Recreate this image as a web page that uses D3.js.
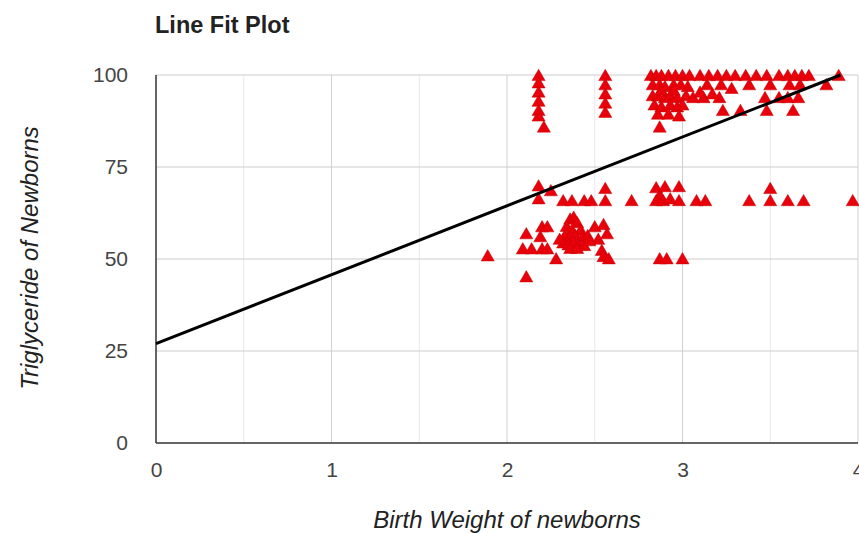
<!DOCTYPE html>
<html>
<head>
<script src="https://cdn.jsdelivr.net/npm/d3@7"></script>
<title>Line Fit Plot</title>
<style>
  body { margin:0; background:#fff; }
  text { font-family: "Liberation Sans", Arial, sans-serif; }
</style>
</head>
<body>
<div id="chart"></div>
<script>
// birth weight (x) vs triglyceride (y)
var upperPoints = [
  [2.18,99.5],[2.18,97.5],[2.18,95],[2.18,92.5],[2.18,90],[2.18,88.5],[2.21,85.5],
  [2.56,99.5],[2.56,97],[2.56,94.5],[2.56,92],[2.56,89.5],
  [2.82,99.5],[2.85,99.5],[2.88,99.5],[2.92,99.5],[2.96,99.5],[3.0,99.5],[3.04,99.5],
  [2.83,97],[2.87,97],[2.9,96.5],[2.95,97],[2.99,97],[3.03,96.5],
  [2.83,94],[2.86,94],[2.9,93.5],[2.93,94],[2.97,93.5],[3.02,94],[3.06,93.5],
  [2.84,91.5],[2.88,91],[2.93,91.5],[2.97,91],[3.0,91.5],[2.95,95.5],[2.88,95.5],
  [2.86,89],[2.92,89],[2.98,88.5],[2.87,85.5],
  [3.1,99.5],[3.15,99.5],[3.2,99.5],[3.25,99.5],[3.3,99.5],[3.36,99.5],[3.42,99.5],
  [3.48,99.5],[3.55,99.5],[3.6,99.5],[3.64,99.5],[3.68,99.5],[3.72,99.5],[3.89,99.5],
  [3.14,97],[3.22,97],[3.38,97],[3.5,97],[3.61,97],[3.67,97],[3.82,97],[3.28,96],
  [3.12,93.5],[3.21,93.5],[3.47,93.5],[3.55,93.5],[3.6,93.5],[3.66,93.5],
  [3.23,90],[3.33,90],[3.48,90],[3.63,90],[3.1,95],[3.17,94.5]
];
var lowerPoints = [
  [2.18,69.5],[2.25,68.2],[2.18,66],
  [2.32,65.5],[2.37,65.5],[2.44,65.5],[2.48,65.5],[2.56,65.5],[2.71,65.5],[2.56,68.8],
  [2.85,69],[2.87,67],[2.9,69.3],[2.85,65.5],[2.89,65.5],[2.93,66],[2.98,69.3],[2.98,65.5],
  [3.08,65.5],[3.13,65.5],[3.38,65.5],[3.5,68.8],[3.5,65.5],[3.6,65.5],[3.69,65.5],[3.97,65.5],
  [2.11,56.5],[2.2,58.4],[2.23,58.4],[2.19,55.7],[2.09,52.4],[2.14,52.4],[2.2,52.4],[2.23,52.4],
  [2.36,60.5],[2.38,61],[2.4,59.5],[2.34,58.5],[2.37,57.5],[2.42,57.5],[2.33,56],[2.36,55.5],
  [2.39,56],[2.43,55.5],[2.46,56],[2.32,54],[2.35,53.5],[2.38,54],[2.41,53.5],[2.44,53.3],
  [2.47,54.6],[2.36,52.5],[2.4,52.5],[2.3,55],
  [2.5,58.4],[2.55,59],[2.57,56.5],[2.54,52],[2.55,50.3],[2.58,49.7],[2.52,55],
  [2.28,49.7],[1.89,50.5],[2.11,44.8],[2.87,49.7],[2.91,49.7],[3.0,49.7]
];
var fitX = [0, 3.9];
var fitY = [27, 100];
var xTicks = [0, 1, 2, 3, 4];
var xMinor = [0.5, 1.5, 2.5, 3.5];
var yTicks = [0, 25, 50, 75, 100];

(function(){
  var w = 859, h = 533;
  var left = 156, right = 858, top = 75, bottom = 443;

  var svg = d3.select("#chart").append("svg")
      .attr("width", w).attr("height", h);

  var x = d3.scaleLinear().domain([0, 4]).range([left, right]);
  var y = d3.scaleLinear().domain([0, 100]).range([bottom, top]);

  // grid
  svg.selectAll("line.minor").data(xMinor).enter().append("line")
     .attr("x1", function(d){ return x(d); }).attr("x2", function(d){ return x(d); })
     .attr("y1", top).attr("y2", bottom)
     .attr("stroke", "#e8e8e8");
  svg.selectAll("line.vgrid").data(xTicks.slice(1)).enter().append("line")
     .attr("x1", function(d){ return x(d); }).attr("x2", function(d){ return x(d); })
     .attr("y1", top).attr("y2", bottom)
     .attr("stroke", "#d0d0d0");
  svg.selectAll("line.hgrid").data(yTicks.slice(1)).enter().append("line")
     .attr("x1", left).attr("x2", right)
     .attr("y1", function(d){ return y(d); }).attr("y2", function(d){ return y(d); })
     .attr("stroke", "#cccccc");

  // axes
  var xAxis = svg.append("g").attr("transform", "translate(0," + (bottom + 9) + ")")
     .call(d3.axisBottom(x).tickValues(xTicks).tickSize(0).tickPadding(10).tickFormat(d3.format("d")));
  var yAxis = svg.append("g").attr("transform", "translate(" + (left - 28) + ",0)")
     .call(d3.axisLeft(y).tickValues(yTicks).tickSize(0).tickPadding(0));
  [xAxis, yAxis].forEach(function(a){
    a.select(".domain").remove();
    a.selectAll("text").attr("fill", "#444").style("font-size", "21px")
      .style("font-family", "'Liberation Sans', Arial, sans-serif");
  });

  svg.append("line").attr("x1", left).attr("x2", left).attr("y1", top).attr("y2", bottom)
     .attr("stroke", "#333").attr("stroke-width", 1.5);
  svg.append("line").attr("x1", left).attr("x2", right).attr("y1", bottom).attr("y2", bottom)
     .attr("stroke", "#333").attr("stroke-width", 1.5);

  // points
  var tri = d3.symbol().type(d3.symbolTriangle).size(74);
  svg.selectAll("path.pt").data(upperPoints.concat(lowerPoints)).enter().append("path")
     .attr("class", "pt")
     .attr("d", tri)
     .attr("transform", function(d){ return "translate(" + x(d[0]) + "," + y(d[1]) + ")"; })
     .attr("fill", "#e8000b")
     .attr("stroke", "#c40000").attr("stroke-width", 0.5);

  // fitted line
  var fit = fitX.map(function(v, i){ return [v, fitY[i]]; });
  svg.append("path").datum(fit)
     .attr("d", d3.line().x(function(d){ return x(d[0]); }).y(function(d){ return y(d[1]); }))
     .attr("stroke", "#000").attr("stroke-width", 3).attr("fill", "none");

  // titles
  svg.append("text").attr("x", 155).attr("y", 33)
     .text("Line Fit Plot")
     .style("font-size", "23.5px").style("font-weight", "bold").attr("fill", "#222");
  svg.append("text").attr("x", (left + right) / 2).attr("y", 528)
     .attr("text-anchor", "middle")
     .text("Birth Weight of newborns")
     .style("font-size", "24px").style("font-style", "italic").attr("fill", "#222");
  svg.append("text").attr("transform", "translate(38," + ((top + bottom) / 2 - 1) + ") rotate(-90)")
     .attr("text-anchor", "middle")
     .text("Triglyceride of Newborns")
     .style("font-size", "24px").style("font-style", "italic").attr("fill", "#222");
})();
</script>
</body>
</html>
